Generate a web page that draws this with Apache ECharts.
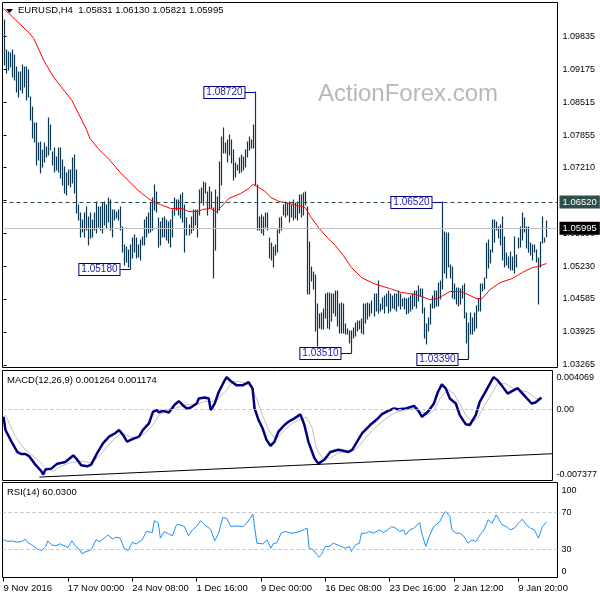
<!DOCTYPE html>
<html><head><meta charset="utf-8">
<script src="https://cdn.jsdelivr.net/npm/echarts@6/dist/echarts.min.js"></script>
<style>html,body{margin:0;padding:0;background:#fff}#c{width:600px;height:600px}</style>
</head><body><div id="c"></div>
<script>
// ---------- DATA ----------
const symbolName = 'EURUSD,H4';
const lastOHLC = ['1.05831', '1.06130', '1.05821', '1.05995'];
const currentPrice = 1.05995;
const resistanceLevel = 1.06520;

const xTickIndex = [0, 32, 64, 96, 128, 160, 192, 224, 256];
const xTickLabels = ['9 Nov 2016', '17 Nov 00:00', '24 Nov 08:00', '1 Dec 16:00', '9 Dec 00:00', '16 Dec 08:00', '23 Dec 16:00', '2 Jan 12:00', '9 Jan 20:00'];
const priceTicks = [1.03265, 1.03925, 1.04585, 1.05230, 1.05890, 1.06550, 1.07210, 1.07855, 1.08515, 1.09175, 1.09835];
const macdTicks = [-0.007377, 0, 0.004069];
const rsiTicks = [0, 30, 70, 100];

const barHigh = [
1.1015,1.0955,1.0951,1.0949,1.0955,1.0945,1.0921,1.0911,1.0911,1.0925,
1.0921,1.0921,1.0915,1.0861,1.0841,1.0809,1.0809,1.0769,1.0771,1.0755,
1.0769,1.0761,1.0819,1.0805,1.0751,1.0759,1.0741,1.0759,1.0759,1.0735,
1.0721,1.0709,1.0715,1.0715,1.0739,1.0745,1.0715,1.0645,1.0629,1.0615,
1.0629,1.0641,1.0621,1.0629,1.0615,1.0629,1.0651,1.0641,1.0641,1.0649,
1.0651,1.0645,1.0659,1.0655,1.0635,1.0635,1.0631,1.0635,1.0641,1.0601,
1.0565,1.0561,1.0555,1.0565,1.0579,1.0585,1.0579,1.0565,1.0575,1.0581,
1.0615,1.0621,1.0629,1.0649,1.0659,1.0685,1.0671,1.0619,1.0611,1.0619,
1.0621,1.0615,1.0611,1.0615,1.0635,1.0659,1.0655,1.0655,1.0665,1.0669,
1.0645,1.0619,1.0605,1.0621,1.0635,1.0635,1.0635,1.0675,1.0679,1.0691,
1.0689,1.0671,1.0681,1.0671,1.0639,1.0675,1.0661,1.0731,1.0781,1.0799,
1.0769,1.0775,1.0785,1.0775,1.0755,1.0729,1.0725,1.0739,1.0745,1.0741,
1.0755,1.0771,1.0781,1.0775,1.0805,1.0872,1.0685,1.0621,1.0625,1.0621,
1.0629,1.0629,1.0579,1.0569,1.0561,1.0565,1.0595,1.0619,1.0621,1.0645,
1.0651,1.0649,1.0651,1.0645,1.0655,1.0649,1.0651,1.0665,1.0665,1.0669,
1.0671,1.0641,1.0571,1.0521,1.0511,1.0505,1.0449,1.0429,1.0431,1.0439,
1.0469,1.0471,1.0471,1.0469,1.0469,1.0475,1.0475,1.0449,1.0451,1.0449,
1.0409,1.0399,1.0395,1.0395,1.0401,1.0411,1.0415,1.0415,1.0419,1.0449,
1.0449,1.0451,1.0449,1.0455,1.0469,1.0469,1.0495,1.0449,1.0461,1.0465,
1.0469,1.0475,1.0469,1.0465,1.0469,1.0469,1.0475,1.0469,1.0459,1.0461,
1.0459,1.0461,1.0465,1.0469,1.0475,1.0475,1.0485,1.0479,1.0479,1.0441,
1.0409,1.0421,1.0449,1.0465,1.0475,1.0475,1.0491,1.0495,1.0652,1.0591,
1.0589,1.0589,1.0525,1.0521,1.0489,1.0481,1.0481,1.0479,1.0485,1.0489,
1.0431,1.0411,1.0431,1.0421,1.0431,1.0445,1.0459,1.0489,1.0489,1.0501,
1.0569,1.0575,1.0555,1.0615,1.0615,1.0611,1.0601,1.0605,1.0621,1.0581,
1.0549,1.0541,1.0551,1.0541,1.0581,1.0545,1.0579,1.0601,1.0629,1.0619,
1.0601,1.0601,1.0569,1.0565,1.0565,1.0555,1.0539,1.0571,1.0621,1.0579,1.0613
];
const barLow = [
1.0925,1.0909,1.0915,1.0921,1.0901,1.0895,1.0871,1.0861,1.0875,1.0869,
1.0881,1.0855,1.0861,1.0815,1.0779,1.0771,1.0725,1.0735,1.0709,1.0721,
1.0731,1.0741,1.0745,1.0755,1.0725,1.0711,1.0715,1.0711,1.0699,1.0685,
1.0669,1.0665,1.0685,1.0681,1.0689,1.0669,1.0629,1.0615,1.0581,1.0591,
1.0581,1.0595,1.0565,1.0579,1.0581,1.0595,1.0589,1.0601,1.0595,1.0589,
1.0605,1.0599,1.0611,1.0595,1.0581,1.0615,1.0619,1.0615,1.0595,1.0551,
1.0525,1.0531,1.0521,1.0518,1.0539,1.0551,1.0539,1.0541,1.0535,1.0565,
1.0565,1.0581,1.0589,1.0591,1.0595,1.0635,1.0631,1.0561,1.0565,1.0581,
1.0581,1.0575,1.0569,1.0561,1.0581,1.0625,1.0635,1.0625,1.0619,1.0611,
1.0551,1.0585,1.0585,1.0589,1.0595,1.0605,1.0581,1.0625,1.0651,1.0645,
1.0669,1.0625,1.0639,1.0639,1.0501,1.0555,1.0629,1.0635,1.0685,1.0749,
1.0749,1.0731,1.0745,1.0729,1.0695,1.0701,1.0715,1.0709,1.0711,1.0715,
1.0721,1.0741,1.0755,1.0759,1.0759,1.0685,1.0595,1.0595,1.0589,1.0585,
1.0601,1.0595,1.0539,1.0535,1.0521,1.0545,1.0551,1.0589,1.0595,1.0625,
1.0621,1.0625,1.0611,1.0621,1.0615,1.0619,1.0615,1.0629,1.0621,1.0625,
1.0645,1.0469,1.0469,1.0495,1.0479,1.0395,1.0365,1.0401,1.0399,1.0399,
1.0421,1.0401,1.0399,1.0415,1.0431,1.0425,1.0405,1.0391,1.0391,1.0391,
1.0389,1.0389,1.0371,1.0351,1.0381,1.0385,1.0395,1.0399,1.0391,1.0389,
1.0411,1.0419,1.0425,1.0431,1.0425,1.0435,1.0431,1.0435,1.0439,1.0431,
1.0445,1.0431,1.0435,1.0441,1.0439,1.0435,1.0445,1.0439,1.0445,1.0439,
1.0429,1.0431,1.0435,1.0439,1.0445,1.0441,1.0455,1.0465,1.0431,1.0381,
1.0369,1.0395,1.0409,1.0441,1.0441,1.0445,1.0445,1.0459,1.0479,1.0509,
1.0501,1.0521,1.0501,1.0461,1.0459,1.0449,1.0445,1.0449,1.0461,1.0421,
1.0371,1.0339,1.0389,1.0389,1.0395,1.0401,1.0435,1.0435,1.0475,1.0479,
1.0501,1.0519,1.0529,1.0551,1.0571,1.0595,1.0579,1.0565,1.0535,1.0521,
1.0525,1.0519,1.0515,1.0515,1.0509,1.0521,1.0559,1.0561,1.0575,1.0591,
1.0559,1.0551,1.0545,1.0535,1.0551,1.0531,1.0449,1.0521,1.0569,1.0571,1.0582
];

// moving average (bar index, price)
const maIndex = [0,13,15,20,25,34,41,43,47,53,58,62,67,72,75,78,83,89,92,97,99,103,106,108,112,118,122,124,127,130,133,137,142,148,150,153,157,161,165,169,173,178,184,192,198,205,212,216,222,227,230,235,238,242,247,253,258,263,266,270];
const maValue = [1.1039,1.0989,1.0979,1.0935,1.0901,1.0855,1.0799,1.0779,1.0759,1.0735,1.0711,1.0695,1.0675,1.0659,1.0651,1.0647,1.0639,1.0639,1.0633,1.0633,1.0637,1.0639,1.0633,1.0641,1.0659,1.0669,1.0679,1.0687,1.0681,1.0673,1.0661,1.0653,1.0649,1.0643,1.0641,1.0621,1.0599,1.0581,1.0565,1.0545,1.0521,1.0501,1.0489,1.0479,1.0471,1.0467,1.0457,1.0459,1.0473,1.0473,1.0469,1.0459,1.0459,1.0477,1.0491,1.0499,1.0511,1.0521,1.0523,1.0529];

// peak / trough annotations
const annoIndex = [125, 63, 173, 231, 218];
const annoPrice = [1.08720, 1.05180, 1.03510, 1.03390, 1.06520];

// MACD main
const macdIndex = [0,1,4,7,9,11,13,16,19,20,21,24,27,31,33,35,37,39,42,44,47,50,53,56,58,60,62,65,68,70,73,75,77,78,80,83,86,88,90,92,94,97,98,101,103,104,106,108,111,112,114,117,120,123,125,126,128,130,132,134,136,138,141,143,146,149,151,153,156,158,161,164,168,170,173,175,177,180,184,187,190,193,196,198,202,206,208,210,213,216,218,220,222,224,227,229,232,234,237,239,242,245,246,248,250,253,255,258,259,262,265,267,270];
const macdValue = [-0.000747,-0.002118,-0.003325,-0.004418,-0.004624,-0.004624,-0.004872,-0.005727,-0.006418,-0.006759,-0.006243,-0.006140,-0.005624,-0.005449,-0.005109,-0.004768,-0.005212,-0.005800,-0.005903,-0.005727,-0.004521,-0.003490,-0.002809,-0.002458,-0.002118,-0.002634,-0.003325,-0.003046,-0.002809,-0.002118,-0.001427,-0.000231,-0.000056,-0.000293,-0.000128,-0.000293,0.000532,0.000872,0.000460,0.000120,0.000223,0.000635,0.001151,0.001254,0.001151,-0.000056,0.000635,0.001831,0.003038,0.003378,0.002966,0.002522,0.002522,0.002862,0.002182,0.000120,-0.001087,-0.001943,-0.003149,-0.003768,-0.003325,-0.002294,-0.001603,-0.001262,-0.000912,-0.000499,-0.001603,-0.003325,-0.005036,-0.005624,-0.005212,-0.004418,-0.004181,-0.004253,-0.004418,-0.004181,-0.003490,-0.002458,-0.001603,-0.001087,-0.000468,-0.000128,0.000120,0.000047,0.000120,0.000388,-0.000056,-0.000747,-0.000231,0.000635,0.001831,0.002625,0.002182,0.001151,0.000635,-0.000571,-0.001530,-0.001603,-0.000571,0.000800,0.001903,0.003038,0.003378,0.003038,0.002522,0.001666,0.001903,0.002244,0.002007,0.001316,0.000635,0.000738,0.001264];
// MACD signal
const signalIndex = [1,6,10,14,18,21,25,29,33,37,40,44,48,52,56,59,63,67,71,75,78,82,86,90,94,98,101,104,107,111,115,118,122,124,127,130,133,136,138,141,145,149,152,155,157,160,164,168,172,176,179,183,187,191,195,198,202,206,210,213,216,219,223,226,229,232,235,238,241,245,248,252,256,259,263,267,270];
const signalValue = [-0.000571,-0.002809,-0.004005,-0.004696,-0.005387,-0.006068,-0.006418,-0.005903,-0.005552,-0.005387,-0.005387,-0.005552,-0.004872,-0.003840,-0.002974,-0.002458,-0.002809,-0.002974,-0.002458,-0.001603,-0.000571,-0.000056,0.000120,0.000460,0.000532,0.000635,0.000872,0.000800,0.000975,0.001831,0.002862,0.002935,0.002698,0.002450,0.001151,-0.000571,-0.002118,-0.002974,-0.002809,-0.002118,-0.001427,-0.000984,-0.000747,-0.001943,-0.004005,-0.005036,-0.005036,-0.004521,-0.004356,-0.004253,-0.003665,-0.002634,-0.001778,-0.001087,-0.000499,-0.000231,-0.000056,0.000120,-0.000231,-0.000571,-0.000056,0.001151,0.002110,0.001666,0.000635,-0.000571,-0.001262,-0.000912,0.000284,0.001666,0.002698,0.002698,0.002182,0.002007,0.001831,0.001151,0.001174];
// MACD trend line (bar index, value)
const trendIndex = [18, 275.5];
const trendValue = [-0.00702, -0.00459];

// RSI(14)
const rsiIndex = [0,2,4,7,9,11,12,14,17,19,21,22,24,26,28,30,32,34,36,38,39,41,43,44,46,48,50,52,54,56,58,60,62,64,66,69,71,74,75,77,78,80,82,84,86,87,90,92,94,96,98,100,103,105,107,109,111,113,116,119,121,124,126,129,131,133,134,136,138,140,143,146,149,151,152,154,156,157,158,160,162,164,166,168,170,172,173,175,177,178,180,182,184,187,189,191,193,195,197,199,200,202,204,207,208,210,212,214,217,219,220,222,223,225,227,229,231,233,235,237,239,241,243,245,246,248,250,252,254,256,258,260,262,264,266,268,270];
const rsiValue = [40.7,38.9,39.6,38.2,38.9,41.4,37.8,35.3,30.6,29.2,33.5,39.6,35.3,34.2,36.4,34.6,32.4,39.6,33.5,29.9,25.6,28.1,29.2,31.7,40.7,38.9,42.5,46.1,41.4,43.6,42.5,31.7,29.2,37.8,36.4,40.7,49.7,48.6,61.5,58.7,42.5,49.7,47.2,45.0,56.9,57.6,55.1,45.0,51.5,55.1,61.5,56.9,52.2,39.6,47.9,64.8,64.1,55.1,55.8,55.1,58.7,68.4,37.1,36.4,40.7,31.7,36.4,37.8,47.9,49.7,47.9,48.6,51.5,53.3,31.7,29.9,24.5,22.0,24.5,33.5,33.5,37.1,35.3,33.5,31.7,33.5,28.1,35.3,37.1,47.9,47.9,49.7,47.9,51.5,48.6,51.5,55.1,53.3,49.7,51.5,46.1,51.5,53.3,59.4,47.9,33.5,46.1,55.1,60.5,69.5,71.2,65.9,51.5,47.9,47.9,44.3,37.1,40.7,38.9,46.1,51.5,62.3,58.7,67.7,64.1,56.9,55.1,51.5,53.3,58.7,63.0,56.9,53.3,51.5,42.5,55.1,60.03];
const macdLast = ['0.001264', '0.001174'];
const rsiLast = '60.0300';

// ---------- CHART ----------
const FONT = '"Liberation Sans", Arial, sans-serif';
const pairs = (xs, ys) => xs.map((x, k) => [x, ys[k]]);
const chart = echarts.init(document.getElementById('c'), null, {renderer: 'canvas', width: 600, height: 600});
const hiddenX = (g) => ({type: 'value', gridIndex: g, min: -0.5, max: 275.5, show: false});
const macdMin = macdTicks[0], macdMax = macdTicks[2];

const option = {
  animation: false,
  backgroundColor: '#ffffff',
  grid: [
    {left: 2.5, top: 2.5, width: 555, height: 365, show: true, borderColor: '#000', borderWidth: 1, backgroundColor: 'rgba(0,0,0,0)'},
    {left: 2.5, top: 370.5, width: 555, height: 110, show: true, borderColor: '#000', borderWidth: 1, backgroundColor: 'rgba(0,0,0,0)'},
    {left: 2.5, top: 482.5, width: 555, height: 95, show: true, borderColor: '#000', borderWidth: 1, backgroundColor: 'rgba(0,0,0,0)'}
  ],
  xAxis: [
    hiddenX(0), hiddenX(1),
    {type: 'value', gridIndex: 2, min: -0.5, max: 275.5, position: 'bottom',
      axisLine: {show: false}, splitLine: {show: false},
      axisTick: {show: true, customValues: xTickIndex, length: 4, lineStyle: {color: '#000'}},
      axisLabel: {show: true, customValues: xTickIndex, formatter: v => xTickLabels[xTickIndex.indexOf(v)],
        align: 'left', margin: 6, color: '#000', fontSize: 9.5, fontFamily: FONT}}
  ],
  yAxis: [
    {type: 'value', gridIndex: 0, position: 'right', min: 1.03211, max: 1.10507,
      axisLine: {show: false}, splitLine: {show: false},
      axisTick: {show: true, customValues: priceTicks, length: 3, lineStyle: {color: '#000'}},
      axisLabel: {customValues: priceTicks, formatter: v => v.toFixed(5), margin: 5, color: '#000', fontSize: 9, fontFamily: FONT}},
    {type: 'value', gridIndex: 1, position: 'right', min: macdMin, max: macdMax,
      axisLine: {show: false}, splitLine: {show: false}, axisTick: {show: false},
      axisLabel: {customValues: macdTicks, margin: 4, color: '#000', fontSize: 9, fontFamily: FONT,
        formatter: v => Math.abs(v - macdMax) < 1e-9 ? '{dn|' + v.toFixed(6) + '}' : (Math.abs(v - macdMin) < 1e-9 ? '{up|' + v.toFixed(6) + '}' : '0.00'),
        rich: {dn: {padding: [14, 0, 0, 0], fontSize: 9, color: '#000', fontFamily: FONT},
               up: {padding: [0, 0, 11, 0], fontSize: 9, color: '#000', fontFamily: FONT}}}},
    {type: 'value', gridIndex: 2, position: 'right', min: 0, max: 102.7,
      axisLine: {show: false}, splitLine: {show: false}, axisTick: {show: false},
      axisLabel: {customValues: rsiTicks, margin: 4, color: '#000', fontSize: 9, fontFamily: FONT,
        formatter: v => v === 100 ? '{dn|100}' : (v === 0 ? '{up|0}' : String(v)),
        rich: {dn: {padding: [11, 0, 0, 0], fontSize: 9, color: '#000', fontFamily: FONT},
               up: {padding: [0, 0, 11, 0], fontSize: 9, color: '#000', fontFamily: FONT}}}}
  ],
  series: [
    // level lines (behind bars)
    {type: 'line', xAxisIndex: 0, yAxisIndex: 0, data: [], z: 1, silent: true,
      markLine: {silent: true, symbol: ['none', 'none'], animation: false, precision: 5,
        data: [
          {yAxis: resistanceLevel, lineStyle: {color: '#2f4f4f', type: [4, 3], width: 1},
            label: {show: true, position: 'end', distance: 2, formatter: () => resistanceLevel.toFixed(5), color: '#fff',
              backgroundColor: '#2f4f4f', padding: [2, 3, 1, 3], fontSize: 9.5, fontFamily: FONT}},
          {yAxis: currentPrice, lineStyle: {color: '#c0c0c0', type: 'solid', width: 1},
            label: {show: true, position: 'end', distance: 2, formatter: () => currentPrice.toFixed(5), color: '#fff',
              backgroundColor: '#000', padding: [2, 3, 1, 3], fontSize: 9.5, fontFamily: FONT}}
        ]}},
    // price bars (high-low)
    {type: 'custom', xAxisIndex: 0, yAxisIndex: 0, z: 2, silent: true,
      data: barHigh.map((h, i) => [i, barLow[i], h]),
      encode: {x: 0, y: [1, 2]},
      renderItem: (params, api) => {
        const i = api.value(0);
        const lo = api.coord([i, api.value(1)]);
        const hi = api.coord([i, api.value(2)]);
        const px = Math.round(lo[0]) + 0.5;
        return {type: 'line', shape: {x1: px, y1: Math.round(lo[1]) + 0.5, x2: px, y2: Math.round(hi[1]) - 0.5},
          style: {stroke: '#0c3650', lineWidth: 1.2}};
      }},
    // moving average
    {type: 'line', xAxisIndex: 0, yAxisIndex: 0, z: 3, data: pairs(maIndex, maValue), showSymbol: false,
      lineStyle: {color: '#ff0000', width: 1}, silent: true},
    // annotations
    {type: 'custom', xAxisIndex: 0, yAxisIndex: 0, z: 5, silent: true,
      data: pairs(annoIndex, annoPrice),
      encode: {x: 0, y: 1},
      renderItem: (params, api) => {
        const p = api.coord([api.value(0), api.value(1)]);
        const x = Math.round(p[0]) + 0.5, y = Math.round(p[1]) + 0.5;
        return {type: 'group', children: [
          {type: 'line', shape: {x1: x - 11, y1: y, x2: x, y2: y}, style: {stroke: '#000080', lineWidth: 1}},
          {type: 'text', x: x - 11, y: y, style: {text: api.value(1).toFixed(5), align: 'right', verticalAlign: 'middle',
            fill: '#1c1caa', font: '10px ' + FONT, backgroundColor: '#fff', borderColor: '#000080', borderWidth: 1, padding: [1, 2, 0, 2]}}
        ]};
      }},
    // MACD signal
    {type: 'line', xAxisIndex: 1, yAxisIndex: 1, z: 2, data: pairs(signalIndex, signalValue), showSymbol: false,
      lineStyle: {color: '#c0c0c0', width: 1}, silent: true,
      markLine: {silent: true, symbol: ['none', 'none'], label: {show: false}, precision: 6,
        lineStyle: {color: '#c0c0c0', type: [3, 3], width: 1}, data: [{yAxis: 0}]}},
    // MACD main
    {type: 'line', xAxisIndex: 1, yAxisIndex: 1, z: 3, data: pairs(macdIndex, macdValue), showSymbol: false,
      lineStyle: {color: '#000080', width: 2.5}, silent: true},
    // MACD trend line
    {type: 'line', xAxisIndex: 1, yAxisIndex: 1, z: 4, data: pairs(trendIndex, trendValue), showSymbol: false,
      lineStyle: {color: '#000', width: 1}, silent: true},
    // RSI
    {type: 'line', xAxisIndex: 2, yAxisIndex: 2, z: 3, data: pairs(rsiIndex, rsiValue), showSymbol: false,
      lineStyle: {color: '#1e90ff', width: 1}, silent: true,
      markLine: {silent: true, symbol: ['none', 'none'], label: {show: false},
        lineStyle: {color: '#c0c0c0', type: [3, 3], width: 1}, data: [{yAxis: 70}, {yAxis: 30}]}}
  ],
  graphic: [
    {type: 'text', left: 318, top: 82, z: 0, silent: true,
      style: {text: 'ActionForex.com', fill: '#b8b8b8', font: '24px ' + FONT}},
    {type: 'polygon', z: 10, silent: true, shape: {points: [[6, 9], [13, 9], [9.5, 13]]}, style: {fill: '#000'}},
    {type: 'text', left: 18, top: 5, z: 10, silent: true,
      style: {text: symbolName + '  ' + lastOHLC.join(' '), fill: '#000', font: '9.5px ' + FONT}},
    {type: 'text', left: 7, top: 375, z: 10, silent: true,
      style: {text: 'MACD(12,26,9) ' + macdLast.join(' '), fill: '#000', font: '9.5px ' + FONT}},
    {type: 'text', left: 7, top: 487, z: 10, silent: true,
      style: {text: 'RSI(14) ' + rsiLast, fill: '#000', font: '9.5px ' + FONT}}
  ]
};
chart.setOption(option);
</script>
</body></html>
